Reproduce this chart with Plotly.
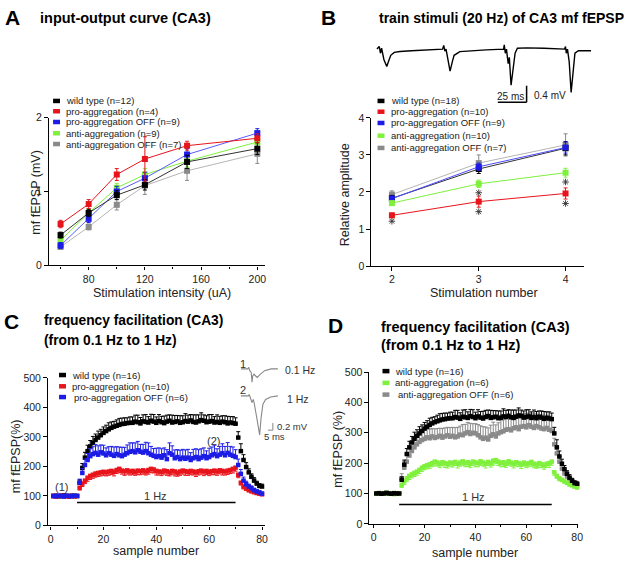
import plotly.graph_objects as go

W, H = 640, 568
FONT = "Liberation Sans, Arial, sans-serif"

# ---------------- Colours ----------------
C_BLACK = "#000000"
C_RED = "#e8141b"
C_BLUE = "#1c1ce6"
C_GREEN = "#7ff03c"
C_GRAY = "#8a8a8a"

# ---------------- Panel A data ----------------
A_x = [60, 80, 100, 120, 150, 200]
A_names = ["wild type (n=12)", "pro-aggregation (n=4)", "pro-aggregation OFF (n=9)",
           "anti-aggregation (n=9)", "anti-aggregation OFF (n=7)"]
A_wt = [0.41, 0.71, 0.95, 1.09, 1.40, 1.58]
A_pro = [0.56, 0.83, 1.23, 1.44, 1.62, 1.72]
A_prooff = [0.27, 0.63, 1.00, 1.18, 1.50, 1.79]
A_anti = [0.34, 0.71, 1.05, 1.23, 1.41, 1.67]
A_antioff = [0.25, 0.52, 0.82, 1.08, 1.28, 1.51]
A_err_wt = [0.04, 0.05, 0.06, 0.07, 0.09, 0.08]
A_err_pro = [0.05, 0.06, 0.08, 0.30, 0.06, 0.06]
A_err_prooff = [0.04, 0.05, 0.07, 0.08, 0.08, 0.06]
A_err_anti = [0.04, 0.05, 0.06, 0.08, 0.08, 0.07]
A_err_antioff = [0.03, 0.04, 0.07, 0.12, 0.13, 0.13]

# ---------------- Panel B data ----------------
B_x = [2, 3, 4]
B_names = ["wild type (n=18)", "pro-aggregation (n=10)", "pro-aggregation OFF (n=9)",
           "anti-aggregation (n=10)", "anti-aggregation OFF (n=7)"]
B_wt = [1.83, 2.62, 3.18]
B_pro = [1.37, 1.74, 1.96]
B_prooff = [1.82, 2.68, 3.20]
B_anti = [1.70, 2.22, 2.52]
B_antioff = [1.93, 2.78, 3.27]
B_err_wt = [0.08, 0.12, 0.18]
B_err_pro = [0.06, 0.15, 0.15]
B_err_prooff = [0.07, 0.10, 0.15]
B_err_anti = [0.05, 0.10, 0.12]
B_err_antioff = [0.10, 0.22, 0.30]
B_star_x = [2, 3, 3, 4, 4]
B_star_y = [1.21, 1.98, 1.47, 2.27, 1.69]

# example trace above B (time ms, mV)
B_trace_t = [0, 2, 3, 4, 6, 8.5, 10, 12, 15, 20, 30, 45, 57,
             58, 59, 60, 62, 63.5, 65.5, 67, 72, 80, 95, 110,
             110.6, 111.5, 112.5, 114, 115, 116.5, 118.5, 120, 122, 130, 145, 163,
             163.8, 164.5, 165.5, 167, 168.7, 170.5, 172, 175, 186]
B_trace_v = [0, 0.06, -0.1, 0.02, -0.25, -0.42, -0.3, -0.15, -0.08, -0.06, -0.04, -0.02, 0.0,
             0.09, -0.05, 0.0, -0.3, -0.53, -0.3, -0.15, -0.06, -0.04, -0.02, 0.0,
             0.1, -0.1, 0.0, -0.35, -0.2, -0.87, -0.4, -0.1, 0.02, 0.03, 0.02, 0.0,
             0.06, -0.1, 0.0, -0.3, -1.04, -0.5, -0.1, -0.04, -0.04]
B_scale_ms = 25
B_scale_mv = 0.4

# ---------------- Panel C / D data ----------------
samples = list(range(1, 81))
C_names = ["wild type (n=16)", "pro-aggregation (n=10)", "pro-aggregation OFF (n=6)"]
D_names = ["wild type (n=16)", "anti-aggregation (n=6)", "anti-aggregation OFF (n=6)"]

wt_ff = [100, 101, 99, 100, 102, 100, 99, 101, 100, 100,
         145, 195, 230, 252, 268, 280, 290, 298, 306, 314,
         320, 326, 331, 335, 338, 341, 344, 345, 347, 348,
         348, 352, 350, 346, 353, 351, 349, 355, 352, 348,
         354, 350, 347, 352, 355, 349, 351, 353, 348, 350,
         354, 352, 356, 351, 349, 353, 357, 355, 350, 352,
         354, 349, 351, 348, 352, 350, 346, 349, 347, 345,
         298, 252, 222, 198, 180, 165, 152, 142, 134, 132]
wt_ff_err = [3, 3, 3, 3, 3, 3, 3, 3, 3, 3,
             10, 15, 18, 20, 20, 22, 20, 22, 20, 20,
             20, 22, 20, 18, 20, 22, 20, 20, 18, 20,
             20, 22, 24, 20, 22, 25, 20, 22, 24, 20,
             22, 20, 24, 22, 20, 25, 22, 20, 24, 22,
             25, 22, 20, 24, 26, 22, 25, 20, 22, 24,
             22, 20, 24, 22, 20, 22, 24, 20, 22, 20,
             20, 25, 18, 15, 12, 10, 10, 8, 8, 8]

pro_ff = [100, 98, 100, 101, 99, 100, 98, 100, 99, 100,
          128, 142, 152, 162, 168, 172, 176, 178, 180, 182,
          180, 183, 185, 182, 188, 192, 186, 184, 187, 183,
          185, 182, 186, 184, 187, 183, 188, 192, 190, 185,
          183, 182, 186, 184, 180, 185, 183, 179, 183, 186,
          184, 182, 185, 183, 180, 184, 186, 183, 185, 182,
          184, 186, 183, 187, 185, 183, 186, 188, 192, 196,
          172, 145, 132, 125, 120, 116, 113, 110, 108, 106]
pro_ff_err = [3, 3, 3, 3, 3, 3, 3, 3, 3, 3,
              8, 10, 10, 12, 12, 12, 12, 12, 12, 12,
              12, 13, 12, 14, 12, 13, 12, 14, 13, 12,
              13, 12, 14, 12, 13, 12, 14, 13, 12, 14,
              12, 13, 12, 14, 12, 13, 15, 12, 13, 12,
              14, 12, 13, 12, 14, 13, 12, 14, 12, 13,
              12, 14, 13, 12, 14, 12, 13, 12, 14, 12,
              10, 8, 8, 6, 6, 5, 5, 5, 5, 5]

prooff_ff = [100, 99, 101, 100, 98, 101, 100, 99, 101, 100,
             145, 178, 205, 222, 235, 242, 246, 240, 248, 244,
             238, 245, 240, 236, 242, 238, 235, 240, 245, 250,
             252, 248, 255, 250, 247, 252, 245, 240, 236, 232,
             235, 230, 238, 225, 245, 240, 228, 232, 225, 230,
             226, 230, 222, 228, 232, 225, 230, 235, 228, 232,
             238, 242, 235, 240, 245, 238, 246, 240, 236, 232,
             205, 175, 152, 140, 132, 126, 120, 115, 112, 108]
prooff_ff_err = [3, 3, 3, 3, 3, 3, 3, 3, 3, 3,
                 12, 15, 20, 22, 25, 25, 28, 30, 25, 28,
                 25, 22, 28, 30, 25, 28, 30, 25, 28, 30,
                 28, 32, 30, 25, 28, 30, 35, 28, 25, 30,
                 28, 30, 25, 32, 35, 30, 28, 25, 30, 28,
                 30, 28, 25, 30, 28, 32, 30, 28, 25, 30,
                 28, 30, 25, 28, 32, 30, 35, 28, 30, 25,
                 20, 15, 12, 10, 8, 8, 6, 6, 5, 5]

anti_ff = [100, 99, 101, 100, 102, 99, 100, 98, 100, 101,
           128, 140, 150, 158, 163, 168, 172, 178, 185, 190,
           193, 196, 200, 205, 202, 198, 203, 200, 197, 202,
           200, 204, 198, 202, 206, 200, 203, 198, 205, 202,
           200, 206, 202, 198, 204, 200, 208, 210, 205, 200,
           203, 198, 206, 202, 198, 203, 200, 196, 202, 198,
           200, 204, 198, 195, 200, 197, 193, 198, 200, 205,
           170, 158, 150, 145, 140, 135, 130, 127, 123, 120]
anti_ff_err = [3, 3, 3, 3, 3, 3, 3, 3, 3, 3,
               8, 10, 10, 12, 12, 12, 12, 12, 12, 12,
               12, 13, 12, 14, 12, 13, 12, 14, 13, 12,
               13, 12, 14, 12, 13, 12, 14, 13, 12, 14,
               12, 13, 12, 14, 12, 13, 15, 12, 13, 12,
               14, 12, 13, 12, 14, 13, 12, 14, 12, 13,
               12, 14, 13, 12, 14, 12, 13, 12, 14, 12,
               10, 8, 8, 6, 6, 5, 5, 5, 5, 5]

antioff_ff = [100, 101, 99, 100, 101, 99, 100, 101, 99, 100,
              150, 185, 205, 225, 240, 252, 262, 270, 276, 280,
              285, 282, 288, 283, 286, 290, 284, 288, 292, 287,
              290, 285, 288, 294, 292, 298, 302, 296, 300, 298,
              292, 285, 280, 284, 278, 290, 295, 288, 298, 302,
              305, 310, 312, 308, 315, 318, 312, 320, 322, 318,
              325, 320, 316, 322, 318, 314, 312, 316, 310, 306,
              262, 232, 205, 182, 166, 156, 147, 140, 134, 130]
antioff_ff_err = [3, 3, 3, 3, 3, 3, 3, 3, 3, 3,
                  15, 20, 22, 25, 25, 28, 28, 30, 28, 30,
                  28, 30, 26, 30, 28, 25, 30, 28, 26, 30,
                  28, 32, 30, 28, 35, 30, 32, 35, 30, 32,
                  35, 38, 40, 35, 38, 35, 40, 38, 35, 40,
                  38, 42, 40, 45, 38, 40, 45, 42, 40, 45,
                  40, 42, 45, 40, 42, 45, 40, 42, 45, 40,
                  20, 15, 12, 10, 10, 8, 8, 6, 6, 6]

hz_bar_x = [10, 70]

# inset example traces in C (time ms, mV)
C_tr1_t = [0, 7, 8, 9, 10.5, 11.3, 12, 13.3, 15, 16.6, 19, 24, 30.6, 37.3]
C_tr1_v = [0, 0, 0.04, -0.05, -0.1, -0.37, -0.2, -0.15, -0.2, -0.24, -0.17, -0.05, 0, 0]
C_tr2_t = [0, 7.5, 8.5, 9.5, 11.3, 12.5, 13.5, 16, 19, 20.5, 22.3, 25, 30, 37.3]
C_tr2_v = [0, 0, 0.04, -0.05, -0.19, -0.1, -0.2, -0.6, -1.09, -0.6, -0.23, -0.1, -0.03, 0]
C_tr2_offset = -0.756
C_scale_ms = 5
C_scale_mv = 0.2

# ---------------- helpers ----------------
def px_x(px):
    return px / W


def px_y(py):
    return 1 - py / H


fig = go.Figure()

AX = dict(showline=True, linecolor="black", linewidth=1.2, ticks="outside", ticklen=3.5,
          tickwidth=1.2, tickcolor="black", showgrid=False, zeroline=False,
          tickfont=dict(size=10.5, color="#222", family=FONT))


def err(vals, up=True, down=True, color="black"):
    n = len(vals)
    return dict(type="data", symmetric=False,
                array=vals if up else [0] * n,
                arrayminus=vals if down else [0] * n,
                color=color, thickness=1, width=2)


# Panel A traces
for ys, es, col, lc in [(A_antioff, A_err_antioff, C_GRAY, "#b5b5b5"),
                        (A_anti, A_err_anti, C_GREEN, C_GREEN),
                        (A_prooff, A_err_prooff, C_BLUE, "#5a5aff"),
                        (A_wt, A_err_wt, C_BLACK, "#333"),
                        (A_pro, A_err_pro, C_RED, C_RED)]:
    fig.add_trace(go.Scatter(x=A_x, y=ys, mode="lines+markers", xaxis="x", yaxis="y",
                             line=dict(color=lc, width=1),
                             marker=dict(symbol="square", size=6, color=col),
                             error_y=err(es, color=col), cliponaxis=False, showlegend=False))

# Panel B traces
for ys, es, col, lc in [(B_antioff, B_err_antioff, C_GRAY, "#b5b5b5"),
                        (B_wt, B_err_wt, C_BLACK, "#333"),
                        (B_prooff, B_err_prooff, C_BLUE, "#4a4aff"),
                        (B_anti, B_err_anti, C_GREEN, C_GREEN),
                        (B_pro, B_err_pro, C_RED, C_RED)]:
    fig.add_trace(go.Scatter(x=B_x, y=ys, mode="lines+markers", xaxis="x2", yaxis="y2",
                             line=dict(color=lc, width=1),
                             marker=dict(symbol="square", size=6, color=col),
                             error_y=err(es, color=col), cliponaxis=False, showlegend=False))
fig.add_trace(go.Scatter(x=B_star_x, y=B_star_y, mode="markers", xaxis="x2", yaxis="y2",
                         marker=dict(symbol="asterisk-open", size=5.5, color="#333",
                                     line=dict(color="#333", width=0.9)),
                         cliponaxis=False, showlegend=False))

# trace above B
fig.add_trace(go.Scatter(x=B_trace_t, y=B_trace_v, mode="lines", xaxis="x5", yaxis="y5",
                         line=dict(color="black", width=1.4), showlegend=False, cliponaxis=False))

# Panel C traces
for ys, es, col, up in [(wt_ff, wt_ff_err, C_BLACK, True),
                        (pro_ff, pro_ff_err, C_RED, False),
                        (prooff_ff, prooff_ff_err, C_BLUE, True)]:
    fig.add_trace(go.Scatter(x=samples, y=ys, mode="markers", xaxis="x3", yaxis="y3",
                             marker=dict(symbol="square", size=4.5, color=col),
                             error_y=err(es, up=up, down=not up, color=col),
                             cliponaxis=False, showlegend=False))

# Panel D traces
for ys, es, col, up in [(antioff_ff, antioff_ff_err, C_GRAY, True),
                        (anti_ff, anti_ff_err, C_GREEN, False),
                        (wt_ff, wt_ff_err, C_BLACK, True)]:
    fig.add_trace(go.Scatter(x=samples, y=ys, mode="markers", xaxis="x4", yaxis="y4",
                             marker=dict(symbol="square", size=4.5, color=col),
                             error_y=err(es, up=up, down=not up, color=col),
                             cliponaxis=False, showlegend=False))

# inset traces C
fig.add_trace(go.Scatter(x=C_tr1_t, y=C_tr1_v, mode="lines", xaxis="x6", yaxis="y6",
                         line=dict(color="#888", width=1.1), showlegend=False, cliponaxis=False))
fig.add_trace(go.Scatter(x=C_tr2_t, y=[v + C_tr2_offset for v in C_tr2_v], mode="lines",
                         xaxis="x6", yaxis="y6",
                         line=dict(color="#888", width=1.1), showlegend=False, cliponaxis=False))

# ---------------- axes ----------------
fig.update_layout(
    xaxis=dict(AX, domain=[px_x(49), px_x(267)], range=[51.5, 205.4], anchor="y",
               dtick=40, tick0=0,
               minor=dict(ticks="outside", ticklen=2.5, tickcolor="black", dtick=20, tick0=0)),
    yaxis=dict(AX, domain=[px_y(265), px_y(114)], range=[0, 2], anchor="x", dtick=1),
    xaxis2=dict(AX, domain=[px_x(374), px_x(589)], range=[1.76, 4.217], anchor="y2", dtick=1),
    yaxis2=dict(AX, domain=[px_y(265.7), px_y(114.3)], range=[0, 4], anchor="x2", dtick=1),
    xaxis3=dict(AX, domain=[px_x(48), px_x(267)], range=[-1.13, 81.1], anchor="y3",
                dtick=20, tick0=0,
                minor=dict(ticks="outside", ticklen=2.5, tickcolor="black", dtick=10, tick0=0)),
    yaxis3=dict(AX, domain=[px_y(530.7), px_y(380)], range=[0, 500], anchor="x3", dtick=100),
    xaxis4=dict(AX, domain=[px_x(372), px_x(583)], range=[-1.83, 80.5], anchor="y4",
                dtick=20, tick0=0,
                minor=dict(ticks="outside", ticklen=2.5, tickcolor="black", dtick=10, tick0=0)),
    yaxis4=dict(AX, domain=[px_y(529), px_y(374)], range=[0, 500], anchor="x4", dtick=100),
    xaxis5=dict(domain=[px_x(376), px_x(600)], range=[-3.4, 189.7], visible=False, anchor="y5"),
    yaxis5=dict(domain=[px_y(100), px_y(35)], range=[-1.318, 0.212], visible=False, anchor="x5"),
    xaxis6=dict(domain=[px_x(242.7), px_x(282.7)], range=[0, 40], visible=False, anchor="y6"),
    yaxis6=dict(domain=[px_y(442), px_y(362)], range=[-1.953, 0.238], visible=False, anchor="x6"),
)

# ---------------- shapes: 1 Hz bars & scale bars ----------------
fig.add_shape(type="line", xref="x3", yref="y3", x0=hz_bar_x[0], x1=hz_bar_x[1], y0=78, y1=78,
              line=dict(color="black", width=1.5))
fig.add_shape(type="line", xref="x4", yref="y4", x0=hz_bar_x[0], x1=hz_bar_x[1], y0=64, y1=64,
              line=dict(color="black", width=1.5))
# B scale bar
sb_t1 = 130.0
sb_v0 = -1.28
fig.add_shape(type="line", xref="x5", yref="y5", x0=sb_t1 - B_scale_ms, x1=sb_t1, y0=sb_v0, y1=sb_v0,
              line=dict(color="black", width=1.5))
fig.add_shape(type="line", xref="x5", yref="y5", x0=sb_t1, x1=sb_t1, y0=sb_v0, y1=sb_v0 + B_scale_mv,
              line=dict(color="black", width=1.5))
# C inset scale bar
cs_t1 = 32.3
cs_v0 = -1.715
fig.add_shape(type="line", xref="x6", yref="y6", x0=cs_t1 - C_scale_ms, x1=cs_t1, y0=cs_v0, y1=cs_v0,
              line=dict(color="#888", width=1))
fig.add_shape(type="line", xref="x6", yref="y6", x0=cs_t1, x1=cs_t1, y0=cs_v0, y1=cs_v0 + C_scale_mv,
              line=dict(color="#888", width=1))


# ---------------- text ----------------
def txt(x, y, s, size=12.5, bold=False, anchor="left", color="#222", angle=0):
    fig.add_annotation(x=px_x(x), y=px_y(y), xref="paper", yref="paper", text=f"<b>{s}</b>" if bold else s,
                       showarrow=False, xanchor=anchor, yanchor="middle", textangle=angle,
                       font=dict(size=size, color=color, family=FONT))


# panel letters and titles
txt(3, 12, "A", 21, True, color="black")
txt(38, 12, "input-output curve (CA3)", 14.5, True, color="black")
txt(322, 12, "B", 21, True, color="black")
txt(380, 12, "train stimuli (20 Hz) of CA3 mf fEPSP", 14, True, color="black")
txt(2, 322, "C", 21, True, color="black")
txt(42, 321, "frequency facilitation (CA3)", 13.8, True, color="black")
txt(42, 342, "(from 0.1 Hz to 1 Hz)", 13.8, True, color="black")
txt(329, 326, "D", 21, True, color="black")
txt(382, 328, "frequency facilitation (CA3)", 14.5, True, color="black")
txt(382, 346, "(from 0.1 Hz to 1 Hz)", 14.5, True, color="black")

# axis titles
txt(36, 190, "mf fEPSP (mV)", 12.5, anchor="center", angle=-90)
txt(163, 293, "Stimulation intensity (uA)", 12.5, anchor="center")
txt(348, 193, "Relative amplitude", 12.5, anchor="center", angle=-90)
txt(488, 293, "Stimulation number", 12.5, anchor="center")
txt(16, 460, "mf fEPSP(%)", 12.5, anchor="center", angle=-90)
txt(157, 557, "sample number", 12.5, anchor="center")
txt(341, 453, "mf fEPSP (%)", 12.5, anchor="center", angle=-90)
txt(479, 559, "sample number", 12.5, anchor="center")

# in-plot labels
txt(515, 92, "25 ms", 10, anchor="center")
txt(536, 91, "0.4 mV", 10)
txt(62, 491, "(1)", 11, anchor="center", color="#333")
txt(215, 444, "(2)", 11, anchor="center", color="#333")
txt(157, 501, "1 Hz", 11, anchor="center", color="#333")
txt(477, 502, "1 Hz", 11, anchor="center", color="#333")
txt(244.5, 366, "1", 11, anchor="center", color="#333")
txt(244.5, 392.5, "2", 11, anchor="center", color="#333")
txt(285, 372, "0.1 Hz", 10.5, color="#333")
txt(287, 401.5, "1 Hz", 10.5, color="#333")
txt(277, 429.5, "0.2 mV", 9.5, color="#333")
txt(277, 439.5, "5 ms", 9.5, anchor="center", color="#333")


# ---------------- legends ----------------
def add_legend(names, colors, x_sw, x_txt, ys, size=9.5, dxs=None):
    for i, (n, c) in enumerate(zip(names, colors)):
        y = ys[i]
        fig.add_shape(type="rect", xref="paper", yref="paper",
                      x0=px_x(x_sw - 3.5), x1=px_x(x_sw + 3.5),
                      y0=px_y(y + 2.3), y1=px_y(y - 2.3), fillcolor=c, line_width=0)
        dx = dxs[i] if dxs else 0
        txt(x_txt + dx, y, n, size, color="#222")


A_colors = [C_BLACK, C_RED, C_BLUE, C_GREEN, C_GRAY]
add_legend(A_names, A_colors, 57, 64.5, [97, 107.5, 118.5, 130, 141])
add_legend(B_names, A_colors, 384, 392.5, [97, 108, 119.5, 132.5, 145])
add_legend(C_names, [C_BLACK, C_RED, C_BLUE], 63, 70.5, [377, 388.5, 399.5], dxs=[0, 0, 2])
add_legend(D_names, [C_BLACK, C_GREEN, C_GRAY], 389, 396.5, [373, 385, 397], dxs=[0, 0, 3])

fig.update_layout(width=W, height=H, autosize=False,
                  margin=dict(l=0, r=0, t=0, b=0),
                  paper_bgcolor="white", plot_bgcolor="rgba(0,0,0,0)",
                  font=dict(family=FONT), showlegend=False)

fig.write_html("out.html", config={"displayModeBar": False},
               post_script="document.body.style.margin='0px';document.body.style.padding='0px';")
